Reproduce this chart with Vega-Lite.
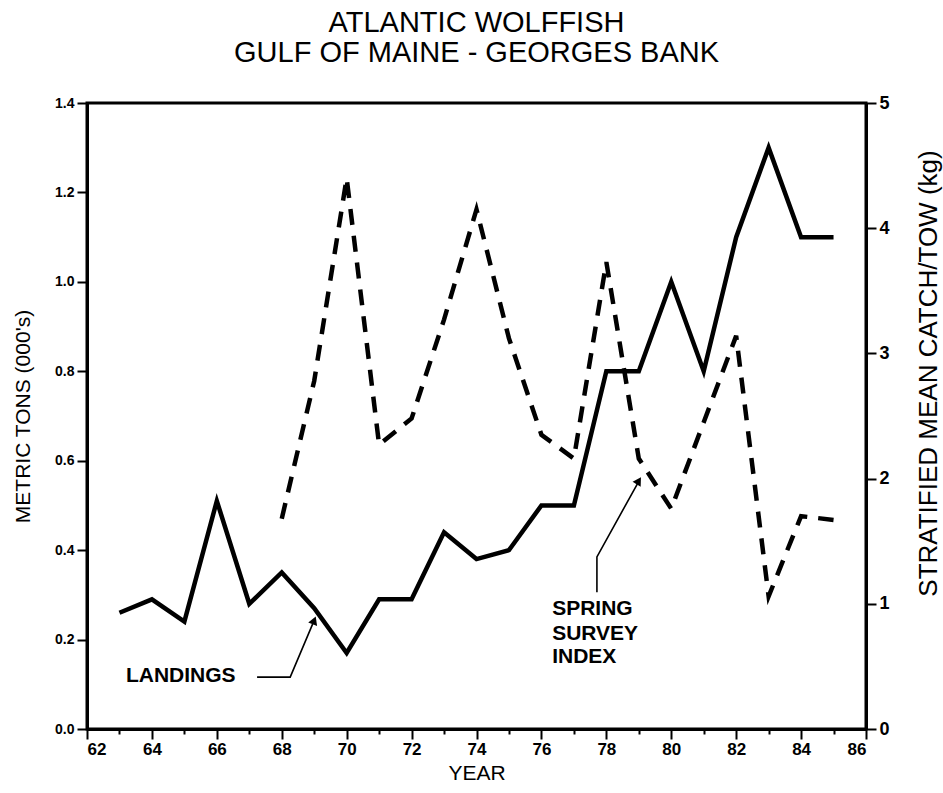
{
  "$schema": "https://vega.github.io/schema/vega-lite/v6.json",
  "width": 779,
  "height": 626,
  "autosize": "none",
  "padding": {"left": 87, "top": 103, "right": 77, "bottom": 64},
  "background": "white",
  "config": {
    "font": "Liberation Sans",
    "view": {"stroke": "black", "strokeWidth": 3},
    "axis": {"domainColor": "black", "domainWidth": 3, "tickColor": "black", "tickWidth": 2, "labelColor": "black", "titleColor": "black", "grid": false, "labelFont": "Liberation Sans", "titleFont": "Liberation Sans"}
  },
  "title": {
    "text": ["ATLANTIC WOLFFISH", "GULF OF MAINE - GEORGES BANK"],
    "fontSize": 29,
    "fontWeight": "normal",
    "lineHeight": 30,
    "offset": 26,
    "anchor": "middle",
    "color": "black",
    "font": "Liberation Sans"
  },
  "datasets": {
    "main": [
      {"year": 63, "landings": 0.26, "survey": null},
      {"year": 64, "landings": 0.29, "survey": null},
      {"year": 65, "landings": 0.24, "survey": null},
      {"year": 66, "landings": 0.51, "survey": null},
      {"year": 67, "landings": 0.28, "survey": null},
      {"year": 68, "landings": 0.35, "survey": 1.68},
      {"year": 69, "landings": 0.27, "survey": 2.78},
      {"year": 70, "landings": 0.17, "survey": 4.40},
      {"year": 71, "landings": 0.29, "survey": 2.27},
      {"year": 72, "landings": 0.29, "survey": 2.48},
      {"year": 73, "landings": 0.44, "survey": 3.27},
      {"year": 74, "landings": 0.38, "survey": 4.15},
      {"year": 75, "landings": 0.40, "survey": 3.12},
      {"year": 76, "landings": 0.50, "survey": 2.35},
      {"year": 77, "landings": 0.50, "survey": 2.16},
      {"year": 78, "landings": 0.80, "survey": 3.73},
      {"year": 79, "landings": 0.80, "survey": 2.16},
      {"year": 80, "landings": 1.00, "survey": 1.76},
      {"year": 81, "landings": 0.80, "survey": 2.45},
      {"year": 82, "landings": 1.10, "survey": 3.14},
      {"year": 83, "landings": 1.30, "survey": 1.06},
      {"year": 84, "landings": 1.10, "survey": 1.70},
      {"year": 85, "landings": 1.10, "survey": 1.67}
    ],
    "arrows": [
      {"id": "L", "ord": 1, "year": 67.24, "tons": 0.116},
      {"id": "L", "ord": 2, "year": 68.26, "tons": 0.116},
      {"id": "L", "ord": 3, "year": 68.97, "tons": 0.238},
      {"id": "S", "ord": 1, "year": 77.71, "tons": 0.306},
      {"id": "S", "ord": 2, "year": 77.71, "tons": 0.385},
      {"id": "S", "ord": 3, "year": 78.97, "tons": 0.55}
    ],
    "heads": [
      {"id": "L", "year": 69.0, "tons": 0.243},
      {"id": "S", "year": 79.0, "tons": 0.555}
    ],
    "labels": [
      {"label": "LANDINGS", "year": 63.2, "tons": 0.118},
      {"label": "SPRING", "year": 76.33, "tons": 0.268},
      {"label": "SURVEY", "year": 76.33, "tons": 0.212},
      {"label": "INDEX", "year": 76.33, "tons": 0.16}
    ]
  },
  "encoding": {
    "x": {
      "field": "year",
      "type": "quantitative",
      "scale": {"domain": [62, 86], "nice": false, "zero": false},
      "axis": {
        "values": [62,63,64,65,66,67,68,69,70,71,72,73,74,75,76,77,78,79,80,81,82,83,84,85,86],
        "labelExpr": "datum.value % 2 === 0 ? datum.label : ''",
        "labelFontSize": 17,
        "labelFontWeight": "bold",
        "labelPadding": 2,
        "tickSize": {"condition": {"test": "datum.value % 2 === 0", "value": 10}, "value": 5},
        "title": "YEAR",
        "titleFontSize": 21,
        "titleFontWeight": "normal",
        "titlePadding": 5
      }
    }
  },
  "layer": [
    {
      "data": {"name": "main"},
      "mark": {"type": "line", "color": "black", "strokeWidth": 4.5, "strokeJoin": "miter"},
      "encoding": {
        "y": {
          "field": "landings",
          "type": "quantitative",
          "scale": {"domain": [0, 1.4], "nice": false},
          "axis": {
            "orient": "left",
            "values": [0, 0.2, 0.4, 0.6, 0.8, 1.0, 1.2, 1.4],
            "format": ".1f",
            "labelFontSize": 14,
            "labelFontWeight": "bold",
            "labelPadding": 3,
            "tickSize": 10,
            "title": "METRIC TONS (000's)",
            "titleFontSize": 21,
            "titleFontWeight": "normal",
            "titleX": -64,
            "titleY": 313,
            "titleAngle": 270,
            "titleBaseline": "middle"
          }
        }
      }
    },
    {
      "data": {"name": "main"},
      "mark": {"type": "line", "color": "black", "strokeWidth": 4.5, "strokeDash": [16, 11]},
      "encoding": {
        "y": {
          "field": "survey",
          "type": "quantitative",
          "scale": {"domain": [0, 5], "nice": false},
          "axis": {
            "orient": "right",
            "values": [0, 1, 2, 3, 4, 5],
            "labelFontSize": 18,
            "labelFontWeight": "bold",
            "labelPadding": 3,
            "tickSize": 10,
            "title": "STRATIFIED MEAN CATCH/TOW (kg)",
            "titleFontSize": 26,
            "titleFontWeight": "normal",
            "titleX": 62,
            "titleY": 270,
            "titleAngle": 270,
            "titleBaseline": "middle"
          }
        }
      }
    },
    {
      "data": {"name": "arrows"},
      "mark": {"type": "line", "color": "black", "strokeWidth": 1.6},
      "encoding": {
        "y": {"field": "tons", "type": "quantitative", "scale": {"domain": [0, 1.4], "nice": false}, "axis": null},
        "detail": {"field": "id"},
        "order": {"field": "ord"}
      }
    },
    {
      "data": {"name": "heads"},
      "transform": [{"filter": "datum.id === 'L'"}],
      "mark": {"type": "point", "shape": "triangle-up", "filled": true, "color": "black", "size": 90, "angle": 22, "opacity": 1},
      "encoding": {
        "y": {"field": "tons", "type": "quantitative", "scale": {"domain": [0, 1.4], "nice": false}, "axis": null}
      }
    },
    {
      "data": {"name": "heads"},
      "transform": [{"filter": "datum.id === 'S'"}],
      "mark": {"type": "point", "shape": "triangle-up", "filled": true, "color": "black", "size": 90, "angle": 32, "opacity": 1},
      "encoding": {
        "y": {"field": "tons", "type": "quantitative", "scale": {"domain": [0, 1.4], "nice": false}, "axis": null}
      }
    },
    {
      "data": {"name": "labels"},
      "mark": {"type": "text", "align": "left", "baseline": "middle", "fontSize": 21, "fontWeight": "bold", "color": "black", "font": "Liberation Sans"},
      "encoding": {
        "y": {"field": "tons", "type": "quantitative", "scale": {"domain": [0, 1.4], "nice": false}, "axis": null},
        "text": {"field": "label"}
      }
    }
  ],
  "resolve": {"scale": {"y": "independent"}}
}
